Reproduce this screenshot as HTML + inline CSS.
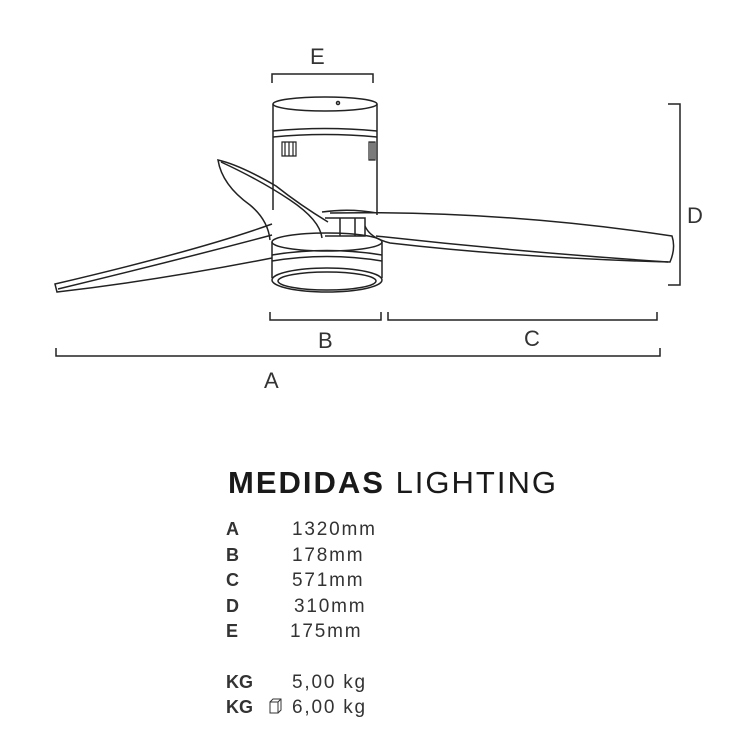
<!DOCTYPE html>
<html><head><style>
body{margin:0;background:#fff;width:750px;height:750px;overflow:hidden;font-family:"Liberation Sans",sans-serif;color:#2a2a2a}
svg{position:absolute;left:0;top:0}
.t span{white-space:nowrap;position:absolute;font-size:19px;letter-spacing:1.8px}
</style></head><body>
<svg width="750" height="750" viewBox="0 0 750 750" fill="none" stroke="#222" stroke-width="1.5">
<path d="M272 83 V74 H373 V83"/>
<path d="M270 312 V320 H381 V312"/>
<path d="M388 312 V320 H657 V312"/>
<path d="M56 348 V356 H660 V348"/>
<path d="M668 104 H680 V285 H668"/>
<ellipse cx="325" cy="104" rx="52" ry="7"/>
<path d="M273 104 V210 M377 104 V215"/>
<path d="M273 131 Q325 126 377 131 M273 137 Q325 132 377 137"/>
<circle cx="338" cy="103" r="1.5"/>
<path d="M282 142 h14 v14 h-14z M285 142 v14 M289 142 v14 M293 142 v14" stroke-width="1.2"/>
<path d="M369 142 h6 v18 h-6z M371 142v18 M373 142v18" stroke-width="1.2"/>
<path d="M322 212 Q350 208 377 213 M325 218 H365 V236 H325 M340 218 V236 M355 218 V236"/>
<path d="M330 213 Q500 210 672 236 Q676 248 670 262 Q520 258 390 243 Q370 238 365 226"/>
<path d="M376 236 Q520 252 668 262"/>
<path d="M328 222 Q300 205 276 186 Q240 165 218 160 Q222 185 250 205 Q268 220 270 240"/>
<path d="M221 162 Q260 180 290 200 Q320 220 322 238"/>
<path d="M272 224 Q200 250 55 284 L57 292 Q160 280 272 258"/>
<path d="M272 235 Q170 262 58 289"/>
<ellipse cx="327" cy="242" rx="55" ry="9"/>
<path d="M272 242 V278 M382 242 V278"/>
<path d="M272 255 Q327 246 382 255 M272 261 Q327 252 382 261"/>
<ellipse cx="327" cy="280" rx="55" ry="12"/>
<ellipse cx="327" cy="281" rx="49" ry="9"/>
<path d="M270 702 h8 v11 h-8z M270 702 l3 -3 h8 v11 l-3 3 M278 702 l3 -3" stroke-width="1" stroke="#333"/>
</svg>
<div style="position:absolute;left:310px;top:44px;font-size:22px;color:#333">E</div>
<div style="position:absolute;left:318px;top:328px;font-size:22px;color:#333">B</div>
<div style="position:absolute;left:524px;top:326px;font-size:22px;color:#333">C</div>
<div style="position:absolute;left:264px;top:368px;font-size:22px;color:#333">A</div>
<div style="position:absolute;left:687px;top:203px;font-size:22px;color:#333">D</div>
<div style="position:absolute;left:228px;top:465px;font-size:31px;letter-spacing:2px;color:#1a1a1a;white-space:nowrap"><b>MEDIDAS</b> LIGHTING</div>
<div class="t" style="position:absolute;left:226px;top:517px;font-size:18px;line-height:25.5px;color:#333">
<div><b>A</b><span style="left:66px">1320mm</span></div>
<div><b>B</b><span style="left:66px">178mm</span></div>
<div><b>C</b><span style="left:66px">571mm</span></div>
<div><b>D</b><span style="left:68px">310mm</span></div>
<div><b>E</b><span style="left:64px">175mm</span></div>
<div style="height:25px"></div>
<div style="position:relative"><b>KG</b><span style="left:66px">5,00 kg</span></div>
<div style="position:relative"><b>KG</b><span style="left:66px">6,00 kg</span></div>
</div>
</body></html>
